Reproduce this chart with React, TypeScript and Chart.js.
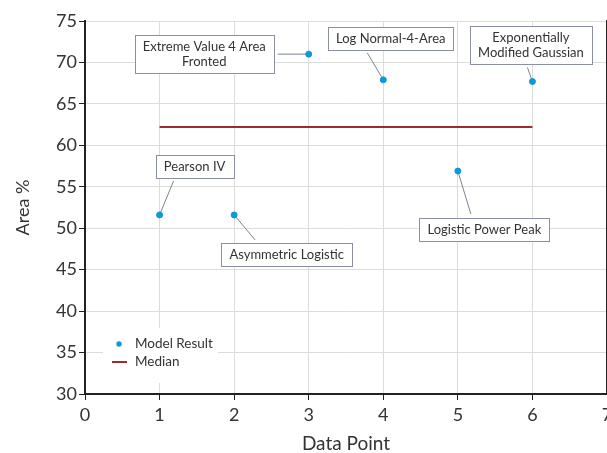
import React, { useEffect, useRef } from "react";
import { Chart, registerables } from "chart.js";

Chart.register(...registerables);

const dataPoints = [1, 2, 3, 4, 5, 6];
const areaValues = [51.6, 51.6, 71.0, 67.9, 56.9, 67.7];
const medianValue = 62.2;
const modelLabels = [
  ["Pearson IV"],
  ["Asymmetric Logistic"],
  ["Extreme Value 4 Area", "Fronted"],
  ["Log Normal-4-Area"],
  ["Logistic Power Peak"],
  ["Exponentially", "Modified Gaussian"],
];
const xTickMin = 0;
const xTickMax = 7;
const yTickMin = 30;
const yTickMax = 75;

// callout placement (pixel offsets from the point): box centre, leader end
const calloutBoxOffsets = [
  [35, -48.5],
  [52.5, 39.5],
  [-104.5, -0.5],
  [7.5, -41.5],
  [26.5, 58],
  [-1.5, -36.5],
];
const calloutLeaderEnds = [
  [14, -34],
  [21, 25],
  [-31, 0],
  [-16, -27],
  [13, 43],
  [-5, -14],
];

const FONT = "Lato, 'Open Sans', sans-serif";
const BLUE = "#0b9ad8";
const RED = "#9e2a35";

const calloutPlugin = {
  id: "callouts",
  beforeDatasetsDraw(chart: any) {
    const ctx = chart.ctx;
    const meta = chart.getDatasetMeta(0);
    const area = chart.chartArea;
    ctx.save();
    ctx.strokeStyle = "#7d8290";
    ctx.lineWidth = 1;
    meta.data.forEach((pt: any, i: number) => {
      const end = calloutLeaderEnds[i];
      ctx.beginPath();
      ctx.moveTo(pt.x, pt.y);
      ctx.lineTo(pt.x + end[0], pt.y + end[1]);
      ctx.stroke();
    });
    const lx = area.left + 18;
    const ly = area.bottom - 66;
    ctx.fillStyle = "#ffffff";
    ctx.fillRect(lx, ly, 115, 55);
    const ds = chart.data.datasets;
    ctx.font = `13.5px ${FONT}`;
    ctx.textBaseline = "middle";
    ctx.textAlign = "left";
    ctx.beginPath();
    ctx.fillStyle = ds[0].backgroundColor;
    ctx.arc(lx + 16, ly + 16, 2.7, 0, Math.PI * 2);
    ctx.fill();
    ctx.fillStyle = "#333";
    ctx.fillText(ds[0].label, lx + 32, ly + 16);
    ctx.strokeStyle = ds[1].borderColor;
    ctx.lineWidth = 2;
    ctx.beginPath();
    ctx.moveTo(lx + 9, ly + 34);
    ctx.lineTo(lx + 24, ly + 34);
    ctx.stroke();
    ctx.fillText(ds[1].label, lx + 32, ly + 34);
    ctx.restore();
  },
  afterDatasetsDraw(chart: any) {
    const ctx = chart.ctx;
    const meta = chart.getDatasetMeta(0);
    const area = chart.chartArea;
    ctx.save();
    ctx.font = `13px ${FONT}`;
    ctx.textAlign = "center";
    ctx.textBaseline = "middle";
    const lineH = 15;
    meta.data.forEach((pt: any, i: number) => {
      const lines = modelLabels[i];
      const w = Math.max(...lines.map((l) => ctx.measureText(l).width)) + 16;
      const h = lines.length * lineH + 8;
      const cx = pt.x + calloutBoxOffsets[i][0];
      const cy = pt.y + calloutBoxOffsets[i][1];
      const bx = Math.round(cx - w / 2) + 0.5;
      const by = Math.round(cy - h / 2) + 0.5;
      ctx.fillStyle = "#ffffff";
      ctx.fillRect(bx, by, Math.round(w), Math.round(h));
      ctx.strokeStyle = "#8a90a0";
      ctx.lineWidth = 1;
      ctx.strokeRect(bx, by, Math.round(w), Math.round(h));
      ctx.fillStyle = "#333";
      lines.forEach((l, k) => {
        ctx.fillText(l, cx, cy - ((lines.length - 1) * lineH) / 2 + k * lineH + 0.5);
      });
    });
    ctx.strokeStyle = "#222";
    ctx.lineWidth = 2;
    ctx.beginPath();
    ctx.moveTo(area.right, area.top - 1);
    ctx.lineTo(area.right, area.bottom);
    ctx.stroke();
    ctx.restore();
  },
};

export default function App() {
  const ref = useRef<HTMLCanvasElement | null>(null);
  useEffect(() => {
    if (!ref.current) return;
    const chart = new Chart(ref.current, {
      type: "scatter",
      data: {
        datasets: [
          {
            label: "Model Result",
            data: dataPoints.map((x, i) => ({ x, y: areaValues[i] })),
            backgroundColor: BLUE,
            borderColor: BLUE,
            pointRadius: 3,
            pointHoverRadius: 3,
            showLine: false,
          },
          {
            label: "Median",
            data: [
              { x: dataPoints[0], y: medianValue },
              { x: dataPoints[dataPoints.length - 1], y: medianValue },
            ],
            borderColor: RED,
            backgroundColor: RED,
            borderWidth: 2,
            pointRadius: 0,
            showLine: true,
          },
        ],
      },
      options: {
        responsive: false,
        animation: false,
        layout: { padding: { top: 21, right: 0, left: 0, bottom: 0 } },
        plugins: { legend: { display: false }, tooltip: { enabled: false } },
        scales: {
          x: {
            type: "linear",
            min: xTickMin,
            max: xTickMax,
            ticks: { stepSize: 1, font: { family: FONT, size: 18 }, color: "#333", padding: 4 },
            grid: { color: "#dcdcdc", tickColor: "#222", tickLength: 6, lineWidth: 1 },
            border: { color: "#222", width: 2 },
            title: { display: true, text: "Data Point", font: { family: FONT, size: 19, lineHeight: 1 }, color: "#333", padding: { top: 0, bottom: 0 } },
            afterFit: (s: any) => {
              s.height = 59;
              s.paddingLeft = 0;
              s.paddingRight = 0;
            },
          },
          y: {
            type: "linear",
            min: yTickMin,
            max: yTickMax,
            ticks: { stepSize: 5, font: { family: FONT, size: 18 }, color: "#333", padding: 2 },
            grid: { color: "#dcdcdc", tickColor: "#222", tickLength: 6, lineWidth: 1 },
            border: { color: "#222", width: 2 },
            title: { display: true, text: "Area %", font: { family: FONT, size: 18 }, color: "#333", padding: { top: 12, bottom: 0 } },
            afterFit: (s: any) => {
              s.width = 85;
            },
          },
        },
      },
      plugins: [calloutPlugin],
    });
    return () => chart.destroy();
  }, []);
  return (
    <div style={{ position: "absolute", left: 0, top: 0, width: 607, height: 453, overflow: "hidden", background: "#fff" }}>
      <canvas ref={ref} width={611} height={453} style={{ display: "block" }} />
    </div>
  );
}
